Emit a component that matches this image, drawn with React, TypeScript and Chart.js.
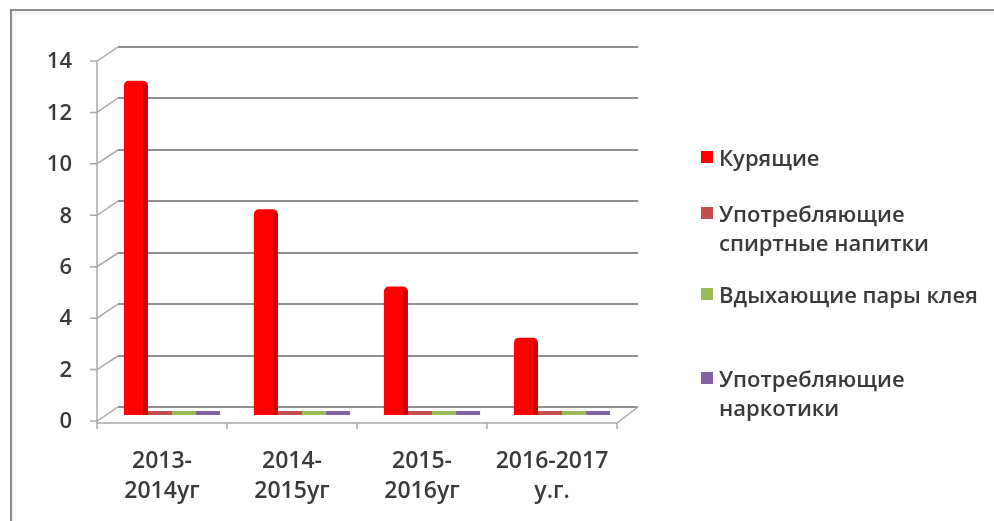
import React, { useEffect, useRef } from 'react';
import { Chart, registerables } from 'chart.js';

Chart.register(...registerables);

// ---- data ----
const categories: string[][] = [
  ['2013-', '2014уг'],
  ['2014-', '2015уг'],
  ['2015-', '2016уг'],
  ['2016-2017', 'у.г.'],
];
const seriesNames = [
  'Курящие',
  'Употребляющие\nспиртные напитки',
  'Вдыхающие пары клея',
  'Употребляющие\nнаркотики',
];
const smokers = [13, 8, 5, 3];
const alcohol = [0, 0, 0, 0];
const glue = [0, 0, 0, 0];
const drugs = [0, 0, 0, 0];
const yTicks = [0, 2, 4, 6, 8, 10, 12, 14];
const seriesColors = ['#FF0000', '#C0504D', '#9BBB59', '#8064A2'];

// ---- styling / layout ----
const FONT = '"Open Sans", "Noto Sans", sans-serif';
const TEXT = '#3a3a3a';
const FRONT = { dx: -10, dy: 6 };
const BACK = { dx: 11, dy: -8 };
const legendTops = [157, 213, 294, 378]; // centre of first line of each legend item
const LEGEND_LH = 29;

const pseudo3d = {
  id: 'pseudo3d',
  beforeDatasetsDraw(chart: any) {
    const { ctx, chartArea: a, scales } = chart;
    const x = scales.x;
    const y = scales.y;
    ctx.save();
    // back wall gridlines
    ctx.strokeStyle = '#8f8f8f';
    ctx.lineWidth = 2;
    y.ticks.forEach((t: any) => {
      const py = Math.round(y.getPixelForValue(t.value) + BACK.dy);
      ctx.beginPath();
      ctx.moveTo(a.left + BACK.dx, py);
      ctx.lineTo(a.right + BACK.dx, py);
      ctx.stroke();
    });
    // tick marks + diagonal connectors
    ctx.strokeStyle = '#a8a8a8';
    ctx.lineWidth = 1.5;
    y.ticks.forEach((t: any) => {
      const py = y.getPixelForValue(t.value);
      const fx = a.left + FRONT.dx;
      const fy = py + FRONT.dy;
      ctx.beginPath();
      ctx.moveTo(fx - 7, fy);
      ctx.lineTo(fx, fy);
      ctx.lineTo(a.left + BACK.dx, Math.round(py + BACK.dy));
      ctx.stroke();
    });
    const y0 = y.getPixelForValue(0);
    const yTop = y.getPixelForValue(y.max);
    // front vertical axis
    ctx.beginPath();
    ctx.moveTo(a.left + FRONT.dx, yTop + FRONT.dy);
    ctx.lineTo(a.left + FRONT.dx, y0 + FRONT.dy + 2);
    ctx.stroke();
    // floor edges
    ctx.beginPath();
    ctx.moveTo(a.left + FRONT.dx, y0 + FRONT.dy + 2);
    ctx.lineTo(a.right + FRONT.dx, y0 + FRONT.dy + 2);
    ctx.lineTo(a.right + BACK.dx, y0 + BACK.dy);
    ctx.stroke();
    // x tick marks at category boundaries
    const w = x.getPixelForValue(1) - x.getPixelForValue(0);
    for (let i = 0; i <= categories.length; i++) {
      const px = x.getPixelForValue(i) - w / 2 + FRONT.dx;
      ctx.beginPath();
      ctx.moveTo(px, y0 + FRONT.dy + 2);
      ctx.lineTo(px, y0 + FRONT.dy + 8);
      ctx.stroke();
    }
    ctx.restore();
  },
  afterDatasetsDraw(chart: any) {
    const { ctx } = chart;
    const meta = chart.getDatasetMeta(0);
    ctx.save();
    meta.data.forEach((bar: any) => {
      const p = bar.getProps(['x', 'y', 'base', 'width'], true);
      ctx.fillStyle = 'rgba(110,0,0,0.35)';
      ctx.fillRect(p.x + p.width / 2 - 5, p.y + 4, 5, p.base - p.y - 4);
    });
    ctx.restore();
  },
};

export default function App() {
  const ref = useRef<HTMLCanvasElement | null>(null);

  useEffect(() => {
    if (!ref.current) return;
    const series = [smokers, alcohol, glue, drugs];
    const chart = new Chart(ref.current, {
      type: 'bar',
      data: {
        labels: categories,
        datasets: series.map((d, i) => ({
          label: seriesNames[i],
          data: d,
          backgroundColor: seriesColors[i],
          borderWidth: 0,
          borderRadius: i === 0 ? { topLeft: 5, topRight: 5, bottomLeft: 0, bottomRight: 0 } : 0,
          borderSkipped: 'bottom',
          minBarLength: i === 0 ? 0 : 4,
          categoryPercentage: 0.74,
          barPercentage: 1,
        })),
      },
      options: {
        animation: false,
        responsive: false,
        devicePixelRatio: 1,
        layout: { padding: { left: 0, top: 55, right: 367, bottom: 0 } },
        plugins: {
          legend: { display: false },
          tooltip: { enabled: false },
        },
        scales: {
          x: {
            grid: { display: false, drawTicks: false },
            border: { display: false },
            ticks: {
              color: TEXT,
              font: { family: FONT, size: 23, weight: '600', lineHeight: 1.32 },
              padding: 31,
              labelOffset: FRONT.dx,
              maxRotation: 0,
              autoSkip: false,
            },
            afterFit: (s: any) => {
              s.height = 106;
            },
          },
          y: {
            min: 0,
            max: 14,
            grid: { display: false, drawTicks: false },
            border: { display: false },
            afterBuildTicks: (s: any) => {
              s.ticks = yTicks.map((v) => ({ value: v }));
            },
            ticks: {
              color: TEXT,
              font: { family: FONT, size: 22, weight: '600' },
              padding: 35,
              labelOffset: FRONT.dy + 1,
            },
            afterFit: (s: any) => {
              s.width = 107;
            },
          },
        },
      },
      plugins: [pseudo3d],
    });
    return () => chart.destroy();
  }, []);

  return (
    <div
      style={{
        position: 'fixed',
        left: 0,
        top: 0,
        width: 994,
        height: 521,
        background: '#fff',
        overflow: 'hidden',
        fontFamily: FONT,
      }}
    >
      <div
        style={{
          position: 'absolute',
          left: 10,
          top: 9,
          width: 1000,
          height: 530,
          borderTop: '2px solid #8a8a8a',
          borderLeft: '2px solid #8a8a8a',
          boxShadow: 'inset 2px 3px 4px rgba(0,0,0,0.06)',
        }}
      />
      <canvas ref={ref} width={994} height={521} style={{ position: 'absolute', left: 0, top: 0, width: 994, height: 521 }} />
      {seriesNames.map((name, i) => (
        <div key={i}>
          <div
            style={{
              position: 'absolute',
              left: 701,
              top: legendTops[i] - 6,
              width: 12,
              height: 12,
              background: seriesColors[i],
            }}
          />
          <div
            style={{
              position: 'absolute',
              left: 719,
              top: legendTops[i] - LEGEND_LH / 2,
              fontSize: 22,
              fontWeight: 600,
              lineHeight: LEGEND_LH + 'px',
              color: TEXT,
              whiteSpace: 'pre',
            }}
          >
            {name}
          </div>
        </div>
      ))}
    </div>
  );
}
